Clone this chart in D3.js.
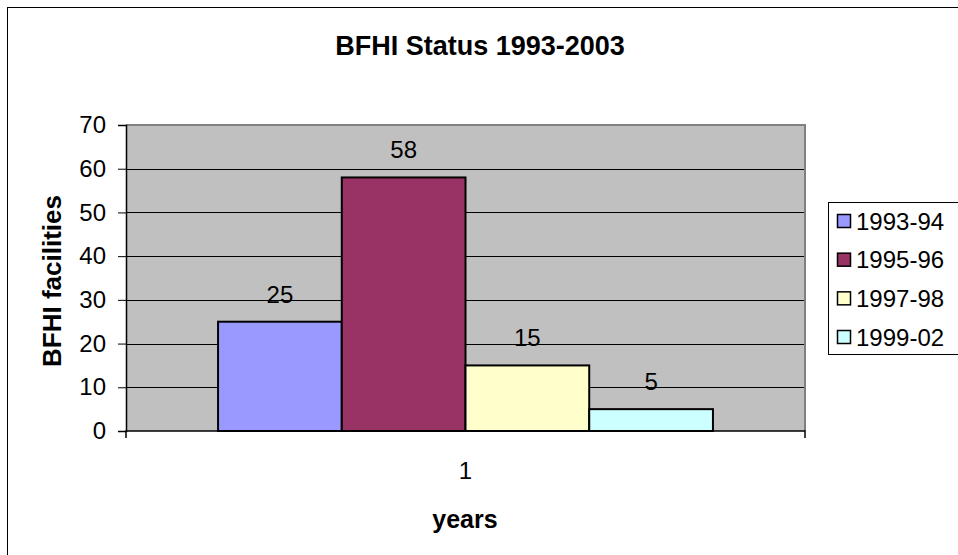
<!DOCTYPE html>
<html>
<head>
<meta charset="utf-8">
<script src="https://cdn.jsdelivr.net/npm/d3@7"></script>
<style>
  body { margin: 0; background: #fff; }
  svg { display: block; font-family: Arial, "Liberation Sans", sans-serif; }
</style>
</head>
<body>
<svg id="chart"></svg>
<script>
// data
const categories = ["1"];
const seriesNames = ["1993-94", "1995-96", "1997-98", "1999-02"];
const seriesValues = [25, 58, 15, 5];
const seriesColors = ["#9999ff", "#993366", "#ffffcc", "#ccffff"];
const yTicks = [0, 10, 20, 30, 40, 50, 60, 70];

const width = 958, height = 555;
const plot = { left: 126, right: 805, top: 125, bottom: 431 };

const svg = d3.select("#chart")
    .attr("width", width)
    .attr("height", height);

// outer chart border (only top/left visible in the crop)
svg.append("rect")
    .attr("x", 7.5).attr("y", 7.5)
    .attr("width", 1000).attr("height", 1000)
    .attr("fill", "#fff")
    .attr("stroke", "#000")
    .attr("stroke-width", 1);

// title
svg.append("text")
    .attr("x", 480).attr("y", 55)
    .attr("text-anchor", "middle")
    .style("font-size", "27px")
    .style("font-weight", "bold")
    .text("BFHI Status 1993-2003");

// scales
const y = d3.scaleLinear()
    .domain([0, 70])
    .range([plot.bottom, plot.top]);

const x0 = d3.scaleBand()
    .domain(categories)
    .range([plot.left, plot.right])
    .paddingInner(0)
    .paddingOuter(0.186);

const x1 = d3.scaleBand()
    .domain(seriesNames)
    .range([0, x0.bandwidth()]);

// plot area
svg.append("rect")
    .attr("x", plot.left).attr("y", plot.top)
    .attr("width", plot.right - plot.left)
    .attr("height", plot.bottom - plot.top)
    .attr("fill", "#c0c0c0");

svg.append("path")
    .attr("d", `M${plot.left},${plot.top} H${plot.right} V${plot.bottom}`)
    .attr("fill", "none")
    .attr("stroke", "#808080")
    .attr("stroke-width", 2);

// gridlines
svg.append("g")
    .selectAll("line")
    .data(yTicks.filter(d => d > 0 && d < 70))
    .enter()
    .append("line")
    .attr("x1", plot.left).attr("x2", plot.right - 1)
    .attr("y1", d => Math.round(y(d)) + 0.5)
    .attr("y2", d => Math.round(y(d)) + 0.5)
    .attr("stroke", "#000")
    .attr("stroke-width", 1);

// y axis
const yAxisGroup = svg.append("g")
    .attr("transform", `translate(${plot.left},0)`)
    .call(d3.axisLeft(y).tickValues(yTicks).tickSize(8).tickPadding(12));

yAxisGroup.select(".domain")
    .attr("stroke", "#000")
    .attr("stroke-width", 1.5);

yAxisGroup.selectAll("line")
    .attr("stroke", "#000");

yAxisGroup.selectAll("text")
    .style("font-size", "24px")
    .style("font-family", "Arial, 'Liberation Sans', sans-serif")
    .attr("fill", "#000");

// bars
const bars = svg.append("g");
bars.selectAll("rect")
    .data(seriesNames)
    .enter()
    .append("rect")
    .attr("x", (d) => x0(categories[0]) + x1(d))
    .attr("y", (d, i) => y(seriesValues[i]))
    .attr("width", x1.bandwidth())
    .attr("height", (d, i) => y(0) - y(seriesValues[i]))
    .attr("fill", (d, i) => seriesColors[i])
    .attr("stroke", "#000")
    .attr("stroke-width", 2);

// data labels
bars.selectAll("text")
    .data(seriesNames)
    .enter()
    .append("text")
    .attr("x", d => x0(categories[0]) + x1(d) + x1.bandwidth() / 2)
    .attr("y", (d, i) => y(seriesValues[i]) - 19)
    .attr("text-anchor", "middle")
    .style("font-size", "24px")
    .text((d, i) => seriesValues[i]);

// x axis
const xAxisGroup = svg.append("g")
    .attr("transform", `translate(0,${plot.bottom})`)
    .call(d3.axisBottom(x0).tickSize(0).tickPadding(31));

xAxisGroup.select(".domain")
    .attr("d", `M${plot.left},7V0H${plot.right}V7`)
    .attr("stroke", "#000")
    .attr("stroke-width", 1.5);

xAxisGroup.selectAll("text")
    .style("font-size", "24px")
    .style("font-family", "Arial, 'Liberation Sans', sans-serif")
    .attr("fill", "#000");

// axis titles
svg.append("text")
    .attr("x", 465).attr("y", 528)
    .attr("text-anchor", "middle")
    .style("font-size", "25px")
    .style("font-weight", "bold")
    .text("years");

svg.append("text")
    .attr("transform", "translate(61,281) rotate(-90)")
    .attr("text-anchor", "middle")
    .style("font-size", "26px")
    .style("font-weight", "bold")
    .text("BFHI facilities");

// legend
const legend = svg.append("g");
legend.append("rect")
    .attr("x", 828.5).attr("y", 202.5)
    .attr("width", 200).attr("height", 152)
    .attr("fill", "#fff")
    .attr("stroke", "#000")
    .attr("stroke-width", 1);

const legendY = d3.scalePoint()
    .domain(seriesNames)
    .range([221, 337]);

const items = legend.selectAll("g.item")
    .data(seriesNames)
    .enter()
    .append("g")
    .attr("class", "item")
    .attr("transform", d => `translate(0,${legendY(d)})`);

items.append("rect")
    .attr("x", 837.5).attr("y", -6.5)
    .attr("width", 13).attr("height", 13)
    .attr("fill", (d, i) => seriesColors[i])
    .attr("stroke", "#000")
    .attr("stroke-width", 1.5);

items.append("text")
    .attr("x", 856)
    .attr("y", 0)
    .attr("dy", "0.36em")
    .style("font-size", "24px")
    .text(d => d);
</script>
</body>
</html>
